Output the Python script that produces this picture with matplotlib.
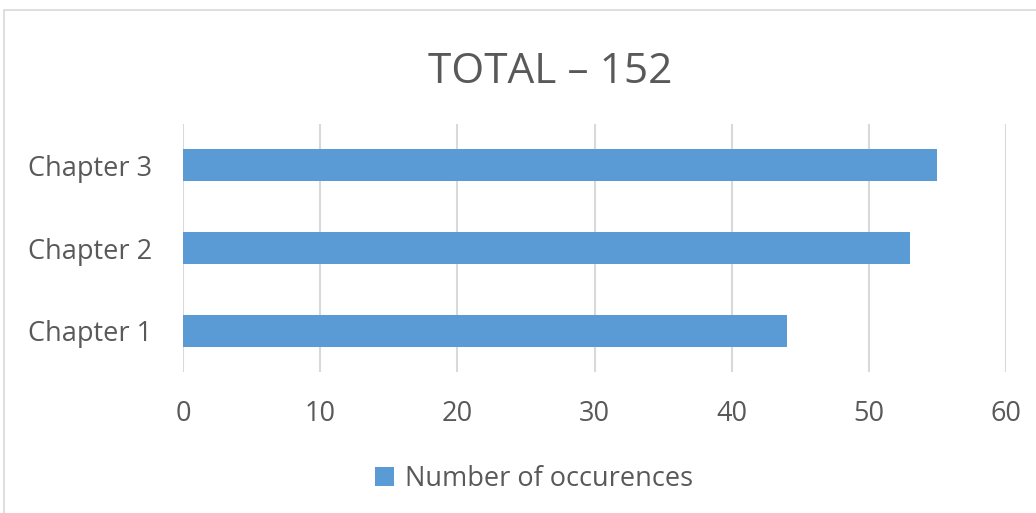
import matplotlib
matplotlib.use("Agg")
import matplotlib.pyplot as plt
from matplotlib.patches import Rectangle

# data
chapters = ["Chapter 1", "Chapter 2", "Chapter 3"]
occurences = [44, 53, 55]
xticks = [0, 10, 20, 30, 40, 50, 60]
series_name = "Number of occurences"
title = "TOTAL \u2013 152"

W, H = 1036, 513
fig = plt.figure(figsize=(W / 100, H / 100), dpi=100)
plt.rcParams['font.family'] = ['Open Sans', 'DejaVu Sans']
txt = '#595959'

# chart frame
fig.patches.append(Rectangle((4 / W, 0 - 0.01), 1.0, 1 - 10 / H + 0.01,
                             transform=fig.transFigure, fill=False,
                             edgecolor='#d9d9d9', linewidth=1.2))

ax = fig.add_axes([183 / W, 1 - 372 / H, (1006 - 183) / W, (372 - 124) / H])
ax.barh(chapters, occurences, height=0.385, color='#5b9bd5', zorder=3,
        label=series_name)
ax.set_xlim(0, 60)
ax.set_ylim(-0.5, 2.5)
ax.set_xticks(xticks)
ax.grid(axis='x', color='#d9d9d9', linewidth=1.5, zorder=0)
for s in ax.spines.values():
    s.set_visible(False)
ax.tick_params(axis='both', length=0, labelcolor=txt, labelsize=19.5)
ax.tick_params(axis='x', pad=20)
ax.tick_params(axis='y', pad=22)

fig.text(550 / W, 1 - 72 / H, title, ha='center', va='center',
         fontsize=30.5, color=txt)

leg = fig.legend(loc='center', bbox_to_anchor=(534 / W, 1 - 479 / H),
                 frameon=False, fontsize=19.5, handlelength=0.7,
                 handleheight=0.7, handletextpad=0.4)
for t in leg.get_texts():
    t.set_color(txt)

fig.savefig("out.png", dpi=100)
